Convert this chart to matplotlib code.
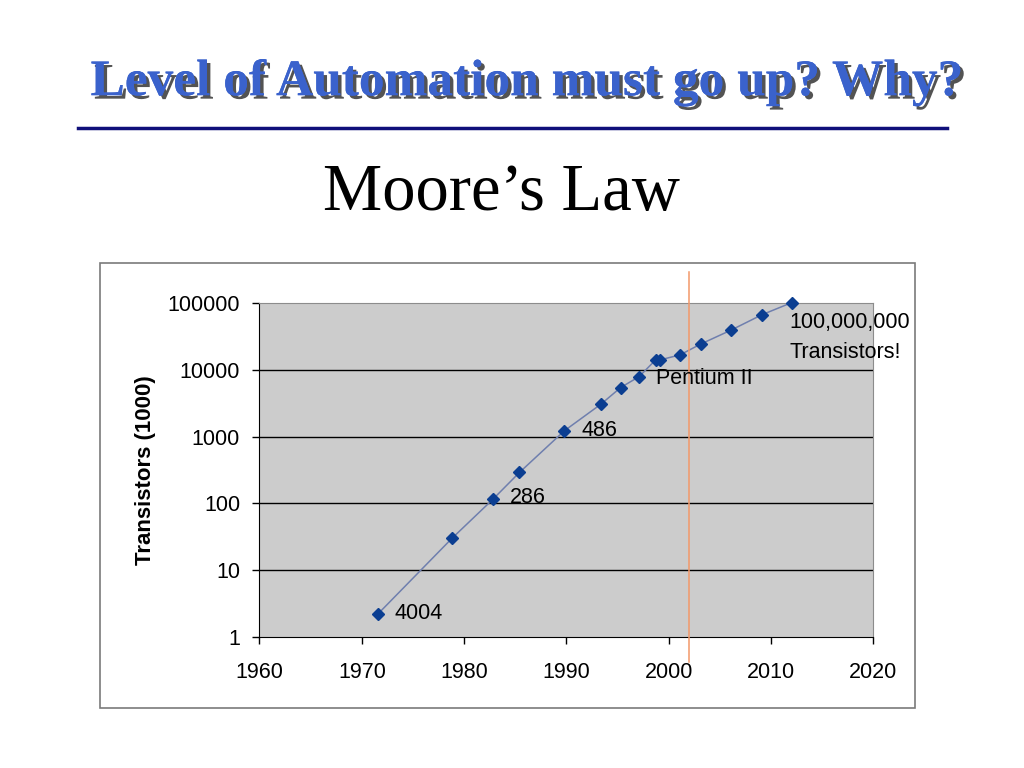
import matplotlib
matplotlib.use('Agg')
import matplotlib.pyplot as plt
import matplotlib.patheffects as pe
from matplotlib.patches import Rectangle
from matplotlib.ticker import FixedLocator, FixedFormatter

# Moore's law data (transistors in thousands)
years = [1971.6, 1978.8, 1982.8, 1985.4, 1989.8, 1993.4, 1995.3, 1997.1,
         1998.7, 1999.1, 2001.1, 2003.1, 2006.1, 2009.1, 2012.0]
transistors = [2.25, 30, 115, 290, 1220, 3070, 5400, 7850,
               13900, 13900, 16600, 24000, 39000, 66000, 100000]

# data labels: (index of point, text)
point_labels = [(0, '4004'), (2, '286'), (4, '486'), (8, 'Pentium II'),
                (14, '100,000,000\nTransistors!')]

x_ticks = [1960, 1970, 1980, 1990, 2000, 2010, 2020]
y_ticks = [1, 10, 100, 1000, 10000, 100000]
y_ticklabels = ['1', '10', '100', '1000', '10000', '100000']
marker_year = 2002

title = 'Level of Automation must go up? Why?'
subtitle = 'Moore\u2019s Law'
y_label = 'Transistors (1000)'

fig = plt.figure(figsize=(10.24, 7.68), dpi=100)
fig.patch.set_facecolor('white')

# title with drop shadow
fig.text(0.5146, 0.892, title, ha='center', va='center',
         family='Liberation Serif', weight='bold', fontsize=37,
         color='#3a62cc',
         path_effects=[pe.withSimplePatchShadow(offset=(2.5, -2.5),
                                                shadow_rgbFace='#404040', alpha=0.9),
                       pe.Normal()])
fig.add_artist(plt.Line2D([78 / 1024, 947 / 1024], [0.8333, 0.8333],
                          color='#10107a', lw=2.5))

fig.text(0.490, 0.748, subtitle, ha='center', va='center',
         family='Liberation Serif', fontsize=48, color='black')

# chart frame
fig.add_artist(Rectangle((0.0977, 0.0781), 0.7959, 0.5794,
                         transform=fig.transFigure, fill=False,
                         edgecolor='#7a7a7a', lw=1.2))

ax = fig.add_axes([0.2534, 0.1702, 0.5996, 0.4357])
ax.set_facecolor('#cccccc')
ax.set_yscale('log')
ax.set_xlim(1960, 2020)
ax.set_ylim(1, 100000)

for yv in y_ticks[1:-1]:
    ax.axhline(yv, color='black', lw=1, zorder=1)

ax.plot(years, transistors, color='#6f7fae', lw=1.1, zorder=3,
        marker='D', markersize=6.5, markerfacecolor='#0b3e91',
        markeredgecolor='#0b3e91', clip_on=False)

offsets = [(12, 0), (12, 1), (12, 0), (0, -13), (-1.5, -25)]
for (i, txt), off in zip(point_labels, offsets):
    ax.annotate(txt, (years[i], transistors[i]), xytext=off,
                textcoords='offset points', ha='left', va='center',
                family='Liberation Sans', fontsize=15.5, color='black',
                linespacing=1.6, zorder=5, annotation_clip=False)

ax.axvline(marker_year, ymin=-0.074, ymax=1.092, clip_on=False,
           color='#f2996a', lw=1.1, zorder=4)

ax.xaxis.set_major_locator(FixedLocator(x_ticks))
ax.yaxis.set_major_locator(FixedLocator(y_ticks))
ax.yaxis.set_major_formatter(FixedFormatter(y_ticklabels))
ax.yaxis.set_minor_locator(FixedLocator([]))
ax.tick_params(axis='both', direction='out', length=5, width=1,
               color='black', labelsize=15.5)
ax.tick_params(axis='y', pad=9)
ax.tick_params(axis='x', pad=13)
for lab in ax.get_xticklabels() + ax.get_yticklabels():
    lab.set_family('Liberation Sans')

ax.spines['left'].set_color('black')
ax.spines['bottom'].set_color('black')
ax.spines['top'].set_color('#8c8c8c')
ax.spines['right'].set_color('#8c8c8c')

ax.set_ylabel(y_label, family='Liberation Sans', weight='bold',
              fontsize=16, labelpad=8)

fig.savefig('out.png', dpi=100)
